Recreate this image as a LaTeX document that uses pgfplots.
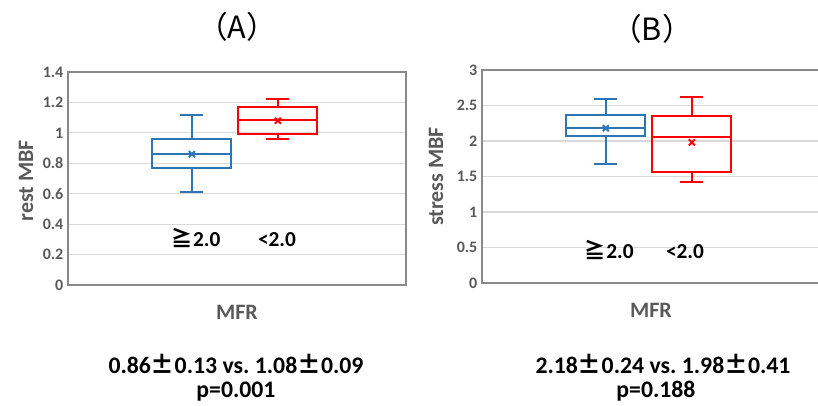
\documentclass[border=0pt]{standalone}
\usepackage{fontspec}
\setmainfont{Carlito}
\newfontfamily\cjk{Noto Sans CJK JP}
\usepackage{pgfplots}
\pgfplotsset{compat=1.18}
\usepgfplotslibrary{statistics}

\definecolor{exblue}{HTML}{2E75B6}
\definecolor{exred}{HTML}{FF0000}
\definecolor{axgray}{HTML}{595959}
\definecolor{gridgray}{HTML}{D9D9D9}
\definecolor{framegray}{HTML}{898989}

\tikzset{grp/.style={font=\bfseries\fontsize{16}{18}\selectfont, anchor=base}}
\pgfplotsset{
  mbfaxis/.style={
    scale only axis, width=338*0.75pt, height=213*0.75pt,
    anchor=south west,
    xmin=-0.44, xmax=3.49, xtick=\empty, ymin=0,
    ymajorgrids, grid style={gridgray, line width=0.9pt},
    axis line style={framegray, line width=0.9pt},
    major tick length=0pt,
    /pgf/number format/assume math mode=true,
    tick label style={font=\bfseries\fontsize{12}{14}\selectfont, text=axgray},
    label style={font=\bfseries\fontsize{16.5}{18}\selectfont, text=axgray},
    x label style={at={(axis description cs:0.5,-0.127)}, anchor=center},
    boxplot/draw direction=y,
    boxplot/box extend=0.92,
    boxplot/whisker extend=0.27,
    boxplot/every median/.style={line width=1.5pt},
    boxplot/every average/.style={/tikz/mark=x, /tikz/mark size=3.2pt,
      /tikz/mark options={solid, line width=1.5pt}},
    clip=false,
  },
}

\begin{document}
\begin{tikzpicture}
% panel A
\begin{axis}[mbfaxis, at={(68*0.75pt,-285*0.75pt)},
  ymax=1.4, ytick distance=0.2,
  ylabel={rest MBF}, xlabel={MFR},
  y label style={at={(axis description cs:-0.124,0.49)}, anchor=center}]
\addplot[exblue, line width=1.5pt, boxplot prepared={draw position=1,
  lower whisker=0.61, lower quartile=0.77, median=0.86,
  upper quartile=0.96, upper whisker=1.12, average=0.86}] coordinates {};
\addplot[exred, line width=1.5pt, boxplot prepared={draw position=2,
  lower whisker=0.96, lower quartile=0.99, median=1.085,
  upper quartile=1.17, upper whisker=1.22, average=1.08}] coordinates {};
\node[grp] at (axis cs:1.05,0.25) {{\cjk ≧}2.0};
\node[grp] at (axis cs:1.99,0.25) {<2.0};
\end{axis}
% panel B
\begin{axis}[mbfaxis, at={(482*0.75pt,-283*0.75pt)},
  ymax=3, ytick distance=0.5,
  ylabel={stress MBF}, xlabel={MFR},
  y label style={at={(axis description cs:-0.136,0.5)}, anchor=center}]
\addplot[exblue, line width=1.5pt, boxplot prepared={draw position=1,
  lower whisker=1.67, lower quartile=2.065, median=2.19,
  upper quartile=2.36, upper whisker=2.59, average=2.18}] coordinates {};
\addplot[exred, line width=1.5pt, boxplot prepared={draw position=2,
  lower whisker=1.42, lower quartile=1.56, median=2.05,
  upper quartile=2.35, upper whisker=2.62, average=1.98}] coordinates {};
\node[grp] at (axis cs:1.04,0.34) {{\cjk ≧}2.0};
\node[grp] at (axis cs:1.92,0.34) {<2.0};
\end{axis}
% titles and statistics
\node[font=\cjk\fontsize{23}{25}\selectfont] at (237*0.75pt,-27*0.75pt) {（A）};
\node[font=\cjk\fontsize{23}{25}\selectfont] at (652*0.75pt,-29*0.75pt) {（B）};
\node[font=\bfseries\fontsize{17.8}{19}\selectfont, anchor=base] at (236*0.75pt,-373*0.75pt)
  {0.86{\cjk ±}0.13 vs.\ 1.08{\cjk ±}0.09};
\node[font=\bfseries\fontsize{17.8}{19}\selectfont, anchor=base] at (236*0.75pt,-397*0.75pt) {p=0.001};
\node[font=\bfseries\fontsize{17.8}{19}\selectfont, anchor=base] at (663*0.75pt,-373*0.75pt)
  {2.18{\cjk ±}0.24 vs.\ 1.98{\cjk ±}0.41};
\node[font=\bfseries\fontsize{17.8}{19}\selectfont, anchor=base] at (656*0.75pt,-397*0.75pt) {p=0.188};
\pgfresetboundingbox
\useasboundingbox (0,0) rectangle (818*0.75pt,-406*0.75pt);
\end{tikzpicture}
\end{document}
